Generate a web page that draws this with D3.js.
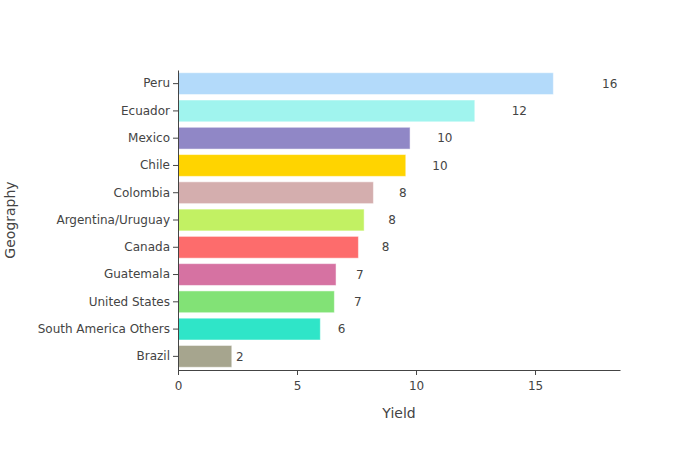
<!DOCTYPE html>
<html><head><meta charset="utf-8">
<script src="https://cdn.jsdelivr.net/npm/d3@7"></script>
<style>body{margin:0;background:#fff;font-family:"DejaVu Sans",sans-serif;}</style>
</head><body><svg id="c" width="700" height="450"></svg>
<script>
const categories = ["Peru","Ecuador","Mexico","Chile","Colombia","Argentina/Uruguay","Canada","Guatemala","United States","South America Others","Brazil"];
const values = [15.77,12.47,9.75,9.57,8.21,7.82,7.58,6.64,6.57,5.98,2.26];
const colors = ["#b3dafa","#a0f4ee","#9087c6","#ffd400","#d4aeae","#c2f163","#fd6c6c","#d672a2","#82e276","#2fe5c8","#a6a58e"];
const xTicks = [0,5,10,15];
const FONT = "DejaVu Sans";

const svg = d3.select("#c");
const L=178,R=620,T=70,B=370;
const x = d3.scaleLinear().domain([0,18.57]).range([L,R]);
const y = d3.scaleBand().domain(categories).range([T,B]).paddingInner(0.2).paddingOuter(0.1);

svg.selectAll("rect.bar").data(categories).enter().append("rect")
  .attr("x",x(0)).attr("y",d=>y(d)).attr("width",(d,i)=>x(values[i])-x(0)).attr("height",y.bandwidth())
  .attr("fill",(d,i)=>colors[i]).attr("stroke","rgba(255,255,255,0.5)").attr("stroke-width",1);

svg.selectAll("text.lbl").data(categories).enter().append("text")
  .attr("x",(d,i)=>x(values[i]*1.15)).attr("y",d=>y(d)+y.bandwidth()/2).attr("dy","0.35em")
  .attr("text-anchor","middle").attr("font-size",12).attr("fill","#444").attr("font-family",FONT)
  .text((d,i)=>Math.round(values[i]));

const xa = svg.append("g").attr("transform",`translate(0,${B})`)
  .call(d3.axisBottom(x).tickValues(xTicks).tickSize(5).tickPadding(6).tickSizeOuter(0));
xa.select(".domain").attr("stroke","#444");
xa.selectAll("line").attr("stroke","#444");
xa.selectAll("text").attr("font-size",12).attr("fill","#444").attr("font-family",FONT);

const ya = svg.append("g").attr("transform",`translate(${L},0)`)
  .call(d3.axisLeft(y).tickSize(5).tickPadding(3).tickSizeOuter(0));
ya.select(".domain").attr("stroke","#444");
ya.selectAll("line").attr("stroke","#444");
ya.selectAll("text").attr("font-size",12).attr("fill","#444").attr("font-family",FONT);

svg.append("text").attr("x",399).attr("y",418).attr("text-anchor","middle").attr("font-size",14).attr("fill","#444").attr("font-family",FONT).text("Yield");
svg.append("text").attr("transform","translate(15,220) rotate(-90)").attr("text-anchor","middle").attr("font-size",14).attr("fill","#444").attr("font-family",FONT).text("Geography");
</script></body></html>
